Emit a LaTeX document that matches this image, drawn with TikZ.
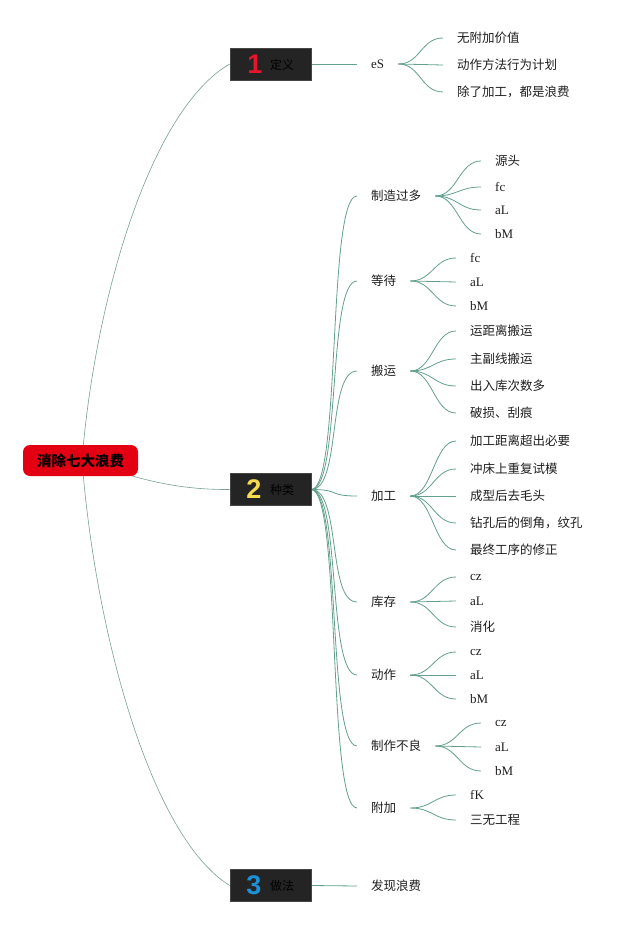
\documentclass[tikz,border=0pt]{standalone}
\usepackage{fontspec}
\setmainfont{Noto Sans CJK SC}
\newfontfamily\lat{Liberation Serif}
\newfontfamily\numf{Liberation Sans}
\usetikzlibrary{backgrounds}
\definecolor{lnk}{RGB}{98,160,138}
\definecolor{rootlnk}{RGB}{120,160,150}
\definecolor{boxfill}{RGB}{36,36,36}
\definecolor{boxline}{RGB}{70,70,70}
\definecolor{rootred}{RGB}{226,0,18}
\definecolor{numred}{RGB}{230,20,45}
\definecolor{numyellow}{RGB}{246,218,80}
\definecolor{numblue}{RGB}{30,144,214}
\definecolor{txt}{RGB}{30,30,30}
\tikzset{
  rootbox/.style={fill=rootred, rounded corners=7pt, minimum width=115pt, minimum height=31pt,
    inner sep=0pt, font=\fontsize{14.5}{16}\selectfont\bfseries, text=black},
  topicbox/.style={fill=boxfill, draw=boxline, line width=0.6pt, minimum width=81pt, minimum height=32pt, inner sep=0pt},
  subtopic/.style={anchor=west, inner xsep=14pt, inner ysep=2pt, text=txt, font=\fontsize{12.5}{14}\selectfont},
  leaf/.style={anchor=west, inner xsep=14pt, inner ysep=2pt, text=txt, font=\fontsize{12.5}{14}\selectfont},
  leafl/.style={leaf, font=\lat\fontsize{13}{14}\selectfont},
  lk/.style={draw=lnk, line width=0.8pt},
  rl/.style={draw=rootlnk, line width=0.6pt},
  boxlabel/.style={font=\fontsize{12}{14}\selectfont, text=black}
}
\newcommand{\bignum}[2]{{\numf\bfseries\fontsize{27}{27}\selectfont\color{#1}#2}}
\begin{document}
\begin{tikzpicture}[x=1pt,y=-1pt]
\useasboundingbox (0,0) rectangle (640,925);

% root and main topics
\node[rootbox] (root) at (80.5,460.5) {消除七大浪费};
\node[topicbox] (t1) at (270.5,64) {};
\node[topicbox] (t2) at (270.5,489.5) {};
\node[topicbox] (t3) at (270.5,885.5) {};
\node (n1) at (255,64) {\bignum{numred}{1}};
\node[boxlabel] (l1) at (282,64.5) {定义};
\node (n2) at (254,489) {\bignum{numyellow}{2}};
\node[boxlabel] (l2) at (282,490) {种类};
\node (n3) at (254,885) {\bignum{numblue}{3}};
\node[boxlabel] (l3) at (282,886) {做法};
\coordinate (rc) at (82,460);

% branch 1
\node[subtopic, font=\lat\fontsize{13}{14}\selectfont] (es) at (357,64) {eS};
\node[leaf] (es1) at (443,38) {无附加价值};
\node[leaf] (es2) at (443,65) {动作方法行为计划};
\node[leaf] (es3) at (443,92) {除了加工，都是浪费};

% branch 2
\node[subtopic] (a) at (357,196) {制造过多};
\node[leaf]  (a1) at (481,161) {源头};
\node[leafl] (a2) at (481,187) {fc};
\node[leafl] (a3) at (481,210) {aL};
\node[leafl] (a4) at (481,234) {bM};

\node[subtopic] (b) at (357,281) {等待};
\node[leafl] (b1) at (456,258) {fc};
\node[leafl] (b2) at (456,282) {aL};
\node[leafl] (b3) at (456,306) {bM};

\node[subtopic] (c) at (357,371) {搬运};
\node[leaf] (c1) at (456,331) {运距离搬运};
\node[leaf] (c2) at (456,359) {主副线搬运};
\node[leaf] (c3) at (456,386) {出入库次数多};
\node[leaf] (c4) at (456,413) {破损、刮痕};

\node[subtopic] (d) at (357,496) {加工};
\node[leaf] (d1) at (456,441) {加工距离超出必要};
\node[leaf] (d2) at (456,469) {冲床上重复试模};
\node[leaf] (d3) at (456,496) {成型后去毛头};
\node[leaf] (d4) at (456,523) {钻孔后的倒角，纹孔};
\node[leaf] (d5) at (456,550) {最终工序的修正};

\node[subtopic] (e) at (357,602) {库存};
\node[leafl] (e1) at (456,577) {cz};
\node[leafl] (e2) at (456,601) {aL};
\node[leaf]  (e3) at (456,627) {消化};

\node[subtopic] (f) at (357,675) {动作};
\node[leafl] (f1) at (456,652) {cz};
\node[leafl] (f2) at (456,675) {aL};
\node[leafl] (f3) at (456,699) {bM};

\node[subtopic] (g) at (357,746) {制作不良};
\node[leafl] (g1) at (481,723) {cz};
\node[leafl] (g2) at (481,747) {aL};
\node[leafl] (g3) at (481,771) {bM};

\node[subtopic] (h) at (357,808) {附加};
\node[leafl] (h1) at (456,795) {fK};
\node[leaf]  (h2) at (456,820) {三无工程};

% branch 3
\node[subtopic] (k) at (357,886) {发现浪费};

\begin{pgfonlayer}{background}
  % root links
  \draw[rl] (rc) .. controls (95,300) and (150,110) .. (t1.west);
  \draw[rl] (rc) .. controls (130,476) and (170,490) .. (t2.west);
  \draw[rl] (rc) .. controls (95,630) and (150,836) .. (t3.west);
  % topic to subtopics
  \draw[lk] (t1.east) -- (es.west);
  \draw[lk] (t3.east) -- (k.west);
  \draw[lk] (t2.east) .. controls +(30,0) and +(-30,0) .. (a.west);
  \draw[lk] (t2.east) .. controls +(30,0) and +(-30,0) .. (b.west);
  \draw[lk] (t2.east) .. controls +(30,0) and +(-30,0) .. (c.west);
  \draw[lk] (t2.east) .. controls +(30,0) and +(-30,0) .. (d.west);
  \draw[lk] (t2.east) .. controls +(30,0) and +(-30,0) .. (e.west);
  \draw[lk] (t2.east) .. controls +(30,0) and +(-30,0) .. (f.west);
  \draw[lk] (t2.east) .. controls +(30,0) and +(-30,0) .. (g.west);
  \draw[lk] (t2.east) .. controls +(30,0) and +(-30,0) .. (h.west);
  % subtopics to leaves
  \foreach \p/\c in {es/es1,es/es2,es/es3,a/a1,a/a2,a/a3,a/a4,b/b1,b/b2,b/b3,
                     c/c1,c/c2,c/c3,c/c4,d/d1,d/d2,d/d3,d/d4,d/d5,e/e1,e/e2,e/e3,
                     f/f1,f/f2,f/f3,g/g1,g/g2,g/g3,h/h1,h/h2}
    \draw[lk] (\p.east) .. controls +(22,0) and +(-22,0) .. (\c.west);
\end{pgfonlayer}
\end{tikzpicture}
\end{document}
